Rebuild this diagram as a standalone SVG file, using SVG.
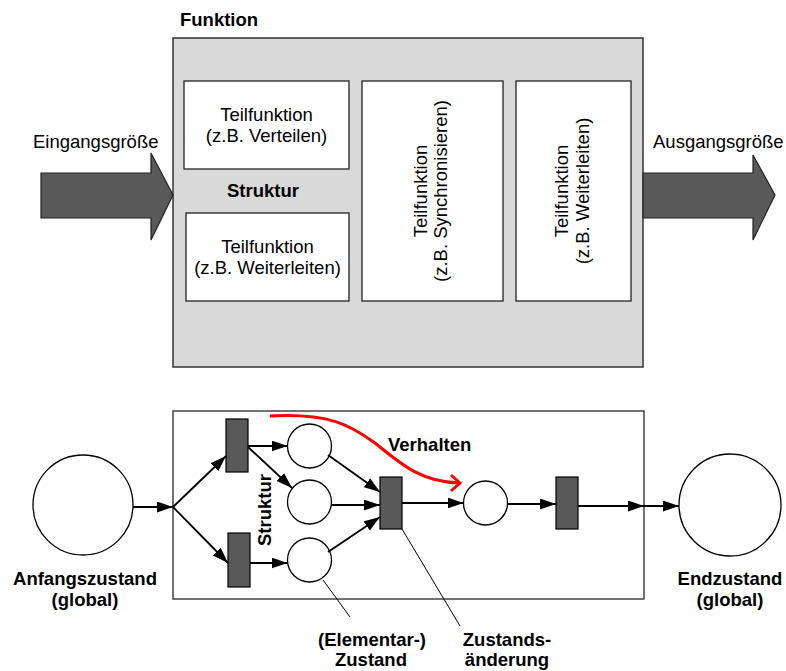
<svg xmlns="http://www.w3.org/2000/svg" width="786" height="671" viewBox="0 0 786 671">
  <style>
    text { font-family: "Liberation Sans", Arial, sans-serif; font-size: 18.5px; fill: #000; }
    .b { font-weight: bold; }
    .m { text-anchor: middle; }
    .panel { fill: #d9d9d9; stroke: #333; stroke-width: 1.5; }
    .sub { fill: #fff; stroke: #222; stroke-width: 1.3; }
    .bigarrow { fill: #595959; stroke: #222; stroke-width: 1.2; }
    .frame { fill: #fff; stroke: #444; stroke-width: 1.5; }
    .place { fill: #fff; stroke: #000; stroke-width: 1.3; }
    .trans { fill: #595959; stroke: #000; stroke-width: 1.2; }
    .arc { fill: none; stroke: #000; stroke-width: 1.8; }
    .lead { fill: none; stroke: #000; stroke-width: 1; }
  </style>
  <defs>
    <marker id="ah" markerUnits="userSpaceOnUse" markerWidth="17" markerHeight="12" refX="16" refY="5.5" orient="auto">
      <path d="M0,0 L16,5.5 L0,11 z" fill="#000"/>
    </marker>
  </defs>

  <!-- Function view -->
  <g id="funktion">
    <text class="b" x="180" y="26">Funktion</text>
    <rect class="panel" x="173" y="38" width="470" height="329"/>
    <text class="b m" x="263" y="197">Struktur</text>
  </g>
  <g id="tf-verteilen">
    <rect class="sub" x="184" y="81" width="165" height="88"/>
    <text class="m" x="266.5" y="121">Teilfunktion</text>
    <text class="m" x="266.5" y="142">(z.B. Verteilen)</text>
  </g>
  <g id="tf-weiterleiten-1">
    <rect class="sub" x="186" y="213" width="163" height="88"/>
    <text class="m" x="267.5" y="253">Teilfunktion</text>
    <text class="m" x="267.5" y="274">(z.B. Weiterleiten)</text>
  </g>
  <g id="tf-synchronisieren">
    <rect class="sub" x="362" y="81" width="141" height="220"/>
    <text class="m" transform="translate(427 191) rotate(-90)">Teilfunktion</text>
    <text class="m" transform="translate(447 191) rotate(-90)">(z.B. Synchronisieren)</text>
  </g>
  <g id="tf-weiterleiten-2">
    <rect class="sub" x="516" y="81" width="115" height="220"/>
    <text class="m" transform="translate(568 191) rotate(-90)">Teilfunktion</text>
    <text class="m" transform="translate(589 191) rotate(-90)">(z.B. Weiterleiten)</text>
  </g>
  <g id="eingang">
    <text x="33" y="148">Eingangsgröße</text>
    <polygon class="bigarrow" points="41,173 151,173 151,153 173,195 151,240 151,218 41,218"/>
  </g>
  <g id="ausgang">
    <text x="653" y="148">Ausgangsgröße</text>
    <polygon class="bigarrow" points="643,173 753,173 753,155 775,195 753,240 753,218 643,218"/>
  </g>

  <!-- Behaviour view: Petri net -->
  <g id="netz">
    <rect class="frame" x="173" y="411" width="471" height="188"/>
    <text class="b m" transform="translate(271 510) rotate(-90)">Struktur</text>
  </g>
  <g id="anfang">
    <circle class="place" cx="83" cy="505" r="50"/>
    <text class="b m" x="85" y="585">Anfangszustand</text>
    <text class="b m" x="85" y="606">(global)</text>
  </g>
  <g id="ende">
    <circle class="place" cx="730" cy="505" r="51"/>
    <text class="b m" x="730" y="585">Endzustand</text>
    <text class="b m" x="730" y="606">(global)</text>
  </g>
  <g id="t1"><rect class="trans" x="226" y="419" width="22" height="53"/></g>
  <g id="t2"><rect class="trans" x="228" y="533" width="22" height="54"/></g>
  <g id="t3"><rect class="trans" x="380" y="477" width="22" height="52"/></g>
  <g id="t4"><rect class="trans" x="556" y="477" width="22" height="52"/></g>
  <g id="p1"><circle class="place" cx="309.5" cy="446" r="22"/></g>
  <g id="p2"><circle class="place" cx="309.5" cy="502" r="22"/></g>
  <g id="p3"><circle class="place" cx="309.5" cy="560" r="22"/></g>
  <g id="p4"><circle class="place" cx="485.5" cy="503" r="22"/></g>

  <g id="verbindungen">
    <line class="arc" x1="133" y1="507" x2="173" y2="507" marker-end="url(#ah)"/>
    <line class="arc" x1="173" y1="507" x2="226" y2="456" marker-end="url(#ah)"/>
    <line class="arc" x1="173" y1="507" x2="228" y2="563" marker-end="url(#ah)"/>
    <line class="arc" x1="248" y1="446" x2="287.5" y2="446" marker-end="url(#ah)"/>
    <line class="arc" x1="248" y1="447" x2="292" y2="488" marker-end="url(#ah)"/>
    <line class="arc" x1="250" y1="563" x2="287.5" y2="563" marker-end="url(#ah)"/>
    <line class="arc" x1="328" y1="455" x2="380" y2="492" marker-end="url(#ah)"/>
    <line class="arc" x1="331.5" y1="505" x2="380" y2="505" marker-end="url(#ah)"/>
    <line class="arc" x1="328" y1="552" x2="380" y2="517" marker-end="url(#ah)"/>
    <line class="arc" x1="402" y1="503" x2="463.5" y2="503" marker-end="url(#ah)"/>
    <line class="arc" x1="507.5" y1="504" x2="556" y2="504" marker-end="url(#ah)"/>
    <line class="arc" x1="578" y1="506" x2="644" y2="506" marker-end="url(#ah)"/>
    <line class="arc" x1="644" y1="506" x2="679" y2="506" marker-end="url(#ah)"/>
    <!-- leader lines to the annotations -->
    <line class="lead" x1="323" y1="580" x2="350" y2="617"/>
    <line class="lead" x1="402" y1="529" x2="460" y2="626"/>
    <!-- behaviour sweep -->
    <path d="M270,416 C330,413 350,425 375,443 C400,463 420,482 459,483" fill="none" stroke="#ff0000" stroke-width="3"/>
    <polyline points="451,475 460,483 451,491" fill="none" stroke="#ff0000" stroke-width="3"/>
  </g>

  <g id="labels">
    <text class="b" x="388" y="451">Verhalten</text>
    <text class="b m" x="372" y="646">(Elementar-)</text>
    <text class="b m" x="371" y="666">Zustand</text>
    <text class="b m" x="507" y="646">Zustands-</text>
    <text class="b m" x="507" y="666">änderung</text>
  </g>
</svg>
